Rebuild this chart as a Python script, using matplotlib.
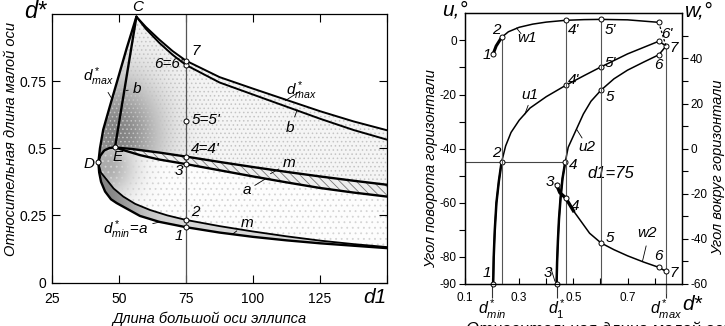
import numpy as np
import matplotlib
matplotlib.use("Agg")
import matplotlib.pyplot as plt
from matplotlib.patches import Polygon

plt.rcParams['font.family'] = ['Liberation Sans', 'DejaVu Sans']
plt.rcParams['mathtext.fontset'] = 'custom'
plt.rcParams['mathtext.it'] = 'Liberation Sans:italic'
plt.rcParams['mathtext.rm'] = 'Liberation Sans'
plt.rcParams['hatch.linewidth'] = 0.6

# ---------------- left panel data (d1 vs d*) ----------------
x_top = [56.5, 60, 65, 70, 75, 87.5, 100, 112.5, 125, 137.5, 150]
dmax_top = [0.99, 0.952, 0.905, 0.862, 0.826, 0.765, 0.722, 0.680, 0.638, 0.600, 0.567]
b_top = [0.99, 0.945, 0.893, 0.848, 0.810, 0.745, 0.700, 0.655, 0.610, 0.568, 0.532]

left_x = [42.3, 42.9, 44.1, 46.7, 49.3, 52.8, 56.5]
left_y = [0.447, 0.50, 0.569, 0.66, 0.749, 0.87, 0.99]
bline_x = [48.5, 56.5]
bline_y = [0.503, 0.99]

# m curve: D -> E -> right edge (first 5 points are the D..E arc)
m_x = [42.3, 43.0, 44.5, 46.5, 48.5, 55, 65, 75, 87.5, 100, 112.5, 125, 137.5, 150]
m_y = [0.447, 0.472, 0.492, 0.501, 0.503, 0.497, 0.484, 0.469, 0.449, 0.430, 0.412, 0.395, 0.379, 0.364]
# a curve starts at E
a_x = [48.5, 52, 58, 65, 75, 87.5, 100, 112.5, 125, 137.5, 150]
a_y = [0.503, 0.492, 0.474, 0.458, 0.441, 0.418, 0.395, 0.373, 0.352, 0.335, 0.320]

lo_x = [42.3, 42.6, 43.3, 44.8, 47, 49.1, 52, 57.8, 65, 75, 87.5, 100, 112.5, 125, 137.5, 150]
lo_y = [0.447, 0.41, 0.375, 0.339, 0.31, 0.296, 0.28, 0.248, 0.226, 0.206, 0.186, 0.170, 0.157, 0.146, 0.137, 0.128]
mi_x = [42.3, 43.2, 45.4, 48, 51.6, 56, 61.6, 68, 75, 87.5, 100, 112.5, 125, 137.5, 150]
mi_y = [0.447, 0.41, 0.383, 0.35, 0.32, 0.293, 0.27, 0.25, 0.233, 0.21, 0.19, 0.172, 0.156, 0.143, 0.132]

d1_sel = 75
sel_pts = [0.206, 0.233, 0.441, 0.469, 0.60, 0.81, 0.826]
D_pt = (42.3, 0.447)
E_pt = (48.5, 0.503)
C_pt = (56.5, 0.99)

# ---------------- right panel data (d* vs u, w) ----------------
u1_d = [0.204, 0.206, 0.21, 0.216, 0.225, 0.235, 0.25, 0.27, 0.30, 0.34, 0.40, 0.472, 0.54, 0.602, 0.70, 0.816, 0.842]
u1_v = [-90, -80, -70, -60, -52, -45, -39, -34, -29.5, -25, -20.8, -16.6, -13, -9.8, -5, -0.3, -2.1]
u2_d = [0.438, 0.44, 0.443, 0.447, 0.453, 0.46, 0.47, 0.481, 0.506, 0.537, 0.565, 0.602, 0.65, 0.70, 0.76, 0.816, 0.842]
u2_v = [-90, -82, -74, -66, -58, -51, -45, -39.5, -34, -27.2, -22.5, -18.4, -14.2, -11, -8, -5.3, -2.1]
w1_d = [0.204, 0.215, 0.235, 0.26, 0.30, 0.35, 0.40, 0.472, 0.54, 0.602, 0.70, 0.815]
w1_v = [42, 45.5, 49.3, 51.8, 53.8, 55.2, 56.1, 56.9, 57.2, 57.3, 57.1, 56.0]
w1_tail_d = [0.815, 0.842]
w1_tail_v = [56.0, 45.5]
w2_d = [0.438, 0.45, 0.472, 0.50, 0.53, 0.56, 0.602, 0.65, 0.70, 0.76, 0.815, 0.842]
w2_v = [-16, -19.5, -21.9, -27.5, -32.5, -37.5, -41.8, -44.8, -47.5, -50.3, -52.6, -54.4]

u1_mk_d = [0.204, 0.235, 0.472, 0.602, 0.816, 0.842]
u1_mk_v = [-90, -45, -16.6, -9.8, -0.3, -2.1]
u2_mk_d = [0.438, 0.47, 0.602, 0.816]
u2_mk_v = [-90, -45, -18.4, -5.3]
w1_mk_d = [0.204, 0.235, 0.472, 0.602, 0.815]
w1_mk_v = [42, 49.3, 56.9, 57.3, 56.0]
w2_mk_d = [0.438, 0.472, 0.602, 0.815, 0.842]
w2_mk_v = [-16, -21.9, -41.8, -52.6, -54.4]

dstar_ticks = [0.2, 0.438, 0.842]
dstar_labels = [r'$d^*_{min}$', r'$d^*_1$', r'$d^*_{max}$']

W, H = 725, 326
fig = plt.figure(figsize=(W / 100, H / 100), dpi=100)


def fx(px):
    return px / W


def fy(py):
    return 1 - py / H


ax = fig.add_axes([fx(52), fy(282.5), 335 / W, 268.5 / H])
ax.set_xlim(25, 150)
ax.set_ylim(0, 1.0)

XX, YY = np.meshgrid(np.linspace(25, 150, 500), np.linspace(0, 1, 400))


def grad(poly_xy, Z, z):
    poly = Polygon(poly_xy, closed=True, facecolor='none', edgecolor='none')
    ax.add_patch(poly)
    im = ax.imshow(Z, extent=[25, 150, 0, 1], origin='lower', aspect='auto',
                   cmap='gray', vmin=0, vmax=1, zorder=z, interpolation='bilinear')
    im.set_clip_path(poly)


mxy = np.column_stack([m_x, m_y])
axy = np.column_stack([a_x, a_y])

# upper region
up_poly = np.concatenate([
    np.column_stack([left_x, left_y]),
    np.column_stack([x_top, dmax_top])[1:],
    mxy[::-1]])
Zu = 0.96 - 0.45 * np.exp(-((XX - 49) / 17) ** 2 - ((YY - 0.55) / 0.22) ** 2)
grad(up_poly, Zu, 1)
ax.add_patch(Polygon(up_poly, closed=True, facecolor='none', edgecolor='#c4c4c4',
                     hatch='....', lw=0, zorder=1.5))

# lower band between d*min and m
lo_poly = np.concatenate([np.column_stack([lo_x, lo_y]),
                          np.column_stack([mi_x, mi_y])[::-1]])
Zl = 0.84 - 0.32 * np.exp(-((XX - 44) / 14) ** 2)
grad(lo_poly, Zl, 1)

# middle region: D->E along m, E->right along a, back along lower m
mid_poly = np.concatenate([mxy[:5], axy[1:],
                           np.column_stack([mi_x, mi_y])[::-1]])
Zm = 0.99 - 0.32 * np.exp(-((XX - 45) / 11) ** 2 - ((YY - 0.43) / 0.12) ** 2)
grad(mid_poly, Zm, 1)
ax.add_patch(Polygon(mid_poly, closed=True, facecolor='none', edgecolor='#d4d4d4',
                     hatch='...', lw=0, zorder=1.5))

# hatched band between m and a (from E onward)
ma_poly = np.concatenate([mxy[4:], axy[::-1]])
ax.add_patch(Polygon(ma_poly, closed=True, facecolor='#eeeeee', edgecolor='#777777',
                     hatch='\\\\\\\\', lw=0, zorder=1.6))

lw_main = 1.7
k = dict(color='black', zorder=3, solid_capstyle='round')
ax.plot(x_top, dmax_top, lw=1.4, **k)
ax.plot(x_top, b_top, lw=1.4, **k)
ax.plot(left_x, left_y, lw=lw_main, **k)
ax.plot(bline_x, bline_y, lw=lw_main, **k)
ax.plot(m_x, m_y, lw=lw_main, **k)
ax.plot(a_x, a_y, lw=lw_main, **k)
ax.plot(lo_x, lo_y, lw=lw_main, **k)
ax.plot(mi_x, mi_y, lw=1.3, **k)

ax.axvline(d1_sel, color='#555555', lw=0.9, zorder=2.5)
ax.plot([d1_sel] * len(sel_pts), sel_pts, 'o', ms=3.6, mfc='white', mec='black', mew=0.7, zorder=5)
ax.plot([D_pt[0], E_pt[0]], [D_pt[1], E_pt[1]], 'o', ms=3.6, mfc='white', mec='black', mew=0.7, zorder=5)

it = dict(style='italic', fontsize=11, zorder=6)
ax.text(77.0, 0.862, '7', ha='left', va='center', **it)
ax.text(73.8, 0.815, "6=6'", ha='right', va='center', **it)
ax.text(77.0, 0.606, "5=5'", ha='left', va='center', **it)
ax.text(77.0, 0.497, "4=4'", ha='left', va='center', **it)
ax.text(74.0, 0.415, '3', ha='right', va='center', **it)
ax.text(77.0, 0.262, '2', ha='left', va='center', **it)
ax.text(74.0, 0.175, '1', ha='right', va='center', **it)
ax.text(40.8, 0.443, 'D', ha='right', va='center', **it)
ax.text(49.3, 0.468, 'E', ha='center', va='center', **it)
ax.text(57.0, 1.0, 'C', ha='center', va='bottom', style='italic', fontsize=11,
        clip_on=False)

lead = dict(arrowstyle='-', lw=0.6, color='black', shrinkA=1, shrinkB=0)
ax.annotate(r'$d^*_{max}$', xy=(47.6, 0.68), xytext=(42.5, 0.765), ha='center',
            va='center', fontsize=11, arrowprops=lead, zorder=6)
ax.annotate('b', xy=(52.6, 0.715), xytext=(55.0, 0.72), ha='left', va='center',
            fontsize=11, style='italic', arrowprops=lead, zorder=6)
ax.annotate(r'$d^*_{max}$', xy=(112.0, 0.677), xytext=(118.0, 0.715), ha='center',
            va='center', fontsize=11, arrowprops=lead, zorder=6)
ax.annotate('b', xy=(116.5, 0.643), xytext=(114.0, 0.575), ha='center', va='center',
            fontsize=11, style='italic', arrowprops=lead, zorder=6)
ax.annotate('m', xy=(106.5, 0.405), xytext=(113.5, 0.445), ha='center', va='center',
            fontsize=11, style='italic', arrowprops=lead, zorder=6)
ax.annotate('a', xy=(104.5, 0.385), xytext=(97.6, 0.343), ha='center', va='center',
            fontsize=11, style='italic', arrowprops=lead, zorder=6)
ax.annotate('m', xy=(92.5, 0.181), xytext=(97.8, 0.222), ha='center', va='center',
            fontsize=11, style='italic', arrowprops=lead, zorder=6)
ax.annotate(r'$d^*_{min}\!=\!a$', xy=(65.0, 0.225), xytext=(52.5, 0.195), ha='center',
            va='center', fontsize=11, arrowprops=lead, zorder=6)

ax.set_xticks([25, 50, 75, 100, 125, 150], ['25', '50', '75', '100', '125', ''])
ax.set_yticks([0, 0.25, 0.5, 0.75], ['0', '0.25', '0.5', '0.75'])
ax.tick_params(direction='in', top=True, right=True, length=6, width=0.8,
               labelsize=10, pad=7)
ax.tick_params(axis='y', pad=4)
for s in ax.spines.values():
    s.set_linewidth(0.9)
ax.text(1.0, -0.055, 'd1', transform=ax.transAxes, ha='right', va='center',
        fontsize=15, style='italic')
fig.text(fx(35), fy(11), 'd*', ha='center', va='center', fontsize=17, style='italic')
fig.text(fx(209), fy(319), 'Длина большой оси эллипса', ha='center', va='center',
         fontsize=10.5, style='italic')
fig.text(fx(11), fy(139), 'Относительная длина малой оси', ha='center', va='center',
         rotation=90, fontsize=10.5, style='italic')

# ---------------- right panel ----------------
ar = fig.add_axes([fx(465), fy(284), 216.7 / W, 270.7 / H])
ar.set_xlim(0.1, 0.9)
ar.set_ylim(-90, 10)
aw = ar.twinx()
aw.set_ylim(-60, 60)

ar.axhline(-45, xmin=0, xmax=(0.47 - 0.1) / 0.8, color='#444444', lw=0.8, zorder=1)
aw.vlines([0.235, 0.472, 0.602], -60, [49.3, 56.9, 57.3], color='#555555', lw=0.8, zorder=1)
ar.plot([0.842, 0.842], [-93.5, -2.1], color='#555555', lw=0.8, zorder=1, clip_on=False)

rk = dict(color='black', lw=1.1, zorder=3)
ar.plot(u1_d, u1_v, **rk)
ar.plot(u2_d, u2_v, **rk)
ar.plot(u1_d[:6], u1_v[:6], color='black', lw=1.8, zorder=3)
ar.plot(u2_d[:7], u2_v[:7], color='black', lw=1.8, zorder=3)
aw.plot(w1_d, w1_v, **rk)
aw.plot(w1_d[:3], w1_v[:3], color='black', lw=2.2, zorder=3)
aw.plot(w1_tail_d, w1_tail_v, color='black', lw=0.9, ls=(0, (2, 1.5)), zorder=3)
aw.plot(w2_d, w2_v, **rk)
aw.plot(w2_d[:4], w2_v[:4], color='black', lw=2.4, zorder=3)

mk = dict(ls='none', marker='o', ms=3.6, mfc='white', mec='black', mew=0.7, zorder=5,
          clip_on=False)
ar.plot(u1_mk_d, u1_mk_v, **mk)
ar.plot(u2_mk_d, u2_mk_v, **mk)
aw.plot(w1_mk_d, w1_mk_v, **mk)
aw.plot(w2_mk_d, w2_mk_v, **mk)

ri = dict(style='italic', fontsize=11, ha='center', va='center', zorder=6)
ar.text(0.18, -86, '1', **ri)
ar.text(0.216, -41.5, '2', **ri)
ar.text(0.405, -86, '3', **ri)
ar.text(0.5, -46.2, '4', **ri)
ar.text(0.5, -14.5, "4'", **ri)
ar.text(0.635, -8.2, "5'", **ri)
ar.text(0.635, -21, '5', **ri)
ar.text(0.814, -9.2, '6', **ri)
ar.text(0.87, -2.8, '7', **ri)
aw.text(0.18, 41.5, '1', **ri)
aw.text(0.214, 52.5, '2', **ri)
aw.text(0.5, 52.5, "4'", **ri)
aw.text(0.635, 52.5, "5'", **ri)
aw.text(0.845, 51.0, "6'", **ri)
aw.text(0.414, -15.0, '3', **ri)
aw.text(0.506, -25.5, '4', **ri)
aw.text(0.635, -39.5, '5', **ri)
aw.text(0.814, -47.5, '6', **ri)
aw.text(0.869, -55.0, '7', **ri)
ar.annotate('', xy=(0.432, -89), xytext=(0.415, -83.5), arrowprops=lead)
ar.text(0.34, -20.0, 'u1', **ri)
ar.annotate('', xy=(0.32, -27.5), xytext=(0.335, -23.5), arrowprops=lead)
ar.text(0.55, -39.5, 'u2', **ri)
ar.annotate('', xy=(0.513, -33.0), xytext=(0.535, -36.5), arrowprops=lead)
aw.text(0.33, 49.0, 'w1', **ri)
aw.annotate('', xy=(0.29, 53.5), xytext=(0.31, 50.5), arrowprops=lead)
aw.text(0.77, -37.5, 'w2', **ri)
aw.annotate('', xy=(0.755, -50.0), xytext=(0.77, -42.5), arrowprops=lead)
ar.text(0.64, -49.3, 'd1=75', style='italic', fontsize=12, ha='center', va='center')

ar.set_xticks([0.1, 0.3, 0.5, 0.7], ['0.1', '0.3', '0.5', '0.7'])
ar.set_xticks([0.2, 0.4, 0.6, 0.8], minor=True)
ar.tick_params(axis='x', which='both', direction='in', length=4, width=0.8,
               labelsize=8.5, pad=6)
ar.set_yticks([-90, -80, -60, -40, -20, 0], ['-90', '-80', '-60', '-40', '-20', '0'])
ar.set_yticks(np.arange(-70, 10, 10), minor=True)
ar.tick_params(axis='y', which='both', direction='out', length=4, width=0.8,
               labelsize=8.5, pad=2)
aw.set_yticks([-60, -40, -20, 0, 20, 40], ['-60', '-40', '-20', '0', '20', '40'])
aw.set_yticks([-50, -30, -10, 10, 30, 50], minor=True)
aw.tick_params(axis='y', which='both', direction='out', length=4, width=0.8,
               labelsize=8.5, pad=2)
for a_ in (ar, aw):
    for s in a_.spines.values():
        s.set_linewidth(0.9)

sec = ar.secondary_xaxis('bottom')
sec.set_xticks(dstar_ticks, dstar_labels)
sec.tick_params(direction='out', length=10, width=0.8, labelsize=11.5, pad=0,
                color='#333333')
sec.spines['bottom'].set_visible(False)

ar.text(1.05, -0.075, 'd*', transform=ar.transAxes, ha='center', va='center',
        fontsize=15, style='italic')
fig.text(fx(455), fy(10), 'u,°', ha='center', va='center', fontsize=15, style='italic')
fig.text(fx(699), fy(11), 'w,°', ha='center', va='center', fontsize=15, style='italic')
fig.text(fx(431), fy(169), 'Угол поворота горизонтали', ha='center', va='center',
         rotation=90, fontsize=10.5, style='italic')
fig.text(fx(718), fy(167), 'Угол вокруг горизонтали', ha='center', va='center',
         rotation=90, fontsize=10.5, style='italic')
fig.text(fx(466), fy(321.5), 'Относительная длина малой оси', ha='left', va='top',
         fontsize=12, style='italic')

fig.savefig('out.png', dpi=100)
